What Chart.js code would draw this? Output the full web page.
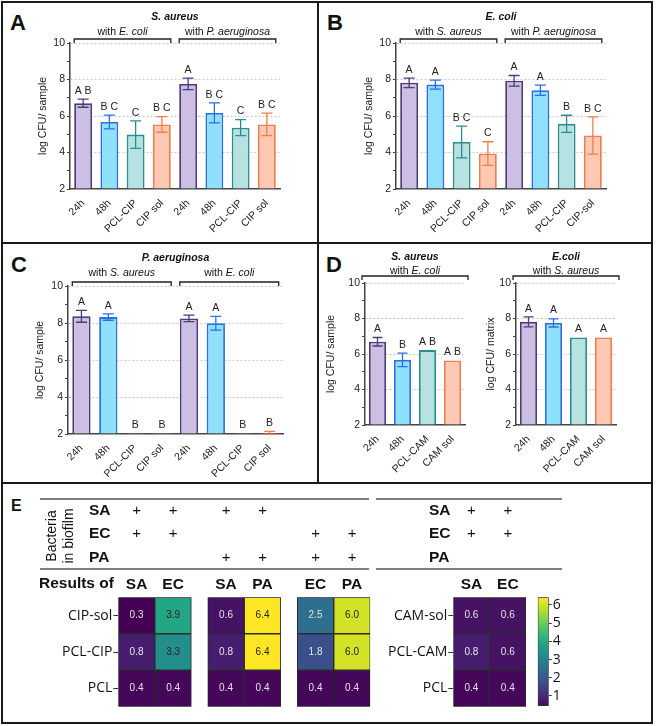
<!DOCTYPE html>
<html>
<head>
<meta charset="utf-8">
<title>Biofilm CFU</title>
<script src="https://cdn.jsdelivr.net/npm/chart.js@4.4.1/dist/chart.umd.min.js"></script>
<style>
  html, body { margin: 0; padding: 0; background: #fff; }
  body { position: relative; width: 656px; height: 726px; overflow: hidden; font-family: "Liberation Sans", Arial, sans-serif; }
  canvas { position: absolute; }
  .panel { position: absolute; box-sizing: border-box; border: 2px solid #1a1a1a; }
  .tag { position: absolute; font-weight: bold; font-size: 22px; line-height: 22px; color: #111; }
</style>
</head>
<body>
<div class="panel" style="left:1px;top:1px;width:318px;height:243px"></div>
<div class="panel" style="left:317px;top:1px;width:336px;height:243px"></div>
<div class="panel" style="left:1px;top:242px;width:318px;height:242px"></div>
<div class="panel" style="left:317px;top:242px;width:336px;height:242px"></div>
<div class="panel" style="left:1px;top:482px;width:652px;height:242px"></div>
<div class="tag" style="left:10px;top:12px">A</div>
<div class="tag" style="left:327px;top:12px">B</div>
<div class="tag" style="left:11px;top:254px">C</div>
<div class="tag" style="left:326px;top:254px">D</div>
<div class="tag" style="left:11px;top:498px;font-size:16px;line-height:16px">E</div>

<script>
// ---- data ----
const cipLabels = ['24h', '48h', 'PCL-CIP', 'CIP sol', '24h', '48h', 'PCL-CIP', 'CIP sol'];
const cipLabelsB = ['24h', '48h', 'PCL-CIP', 'CIP sol', '24h', '48h', 'PCL-CIP', 'CIP-sol'];
const camLabels = ['24h', '48h', 'PCL-CAM', 'CAM sol'];

const saMean = [6.70, 5.67, 4.98, 5.54, 7.76, 6.17, 5.36, 5.54];
const saErr = [0.22, 0.38, 0.75, 0.43, 0.32, 0.55, 0.44, 0.62];
const saLetters = ['A B', 'B C', 'C', 'B C', 'A', 'B C', 'C', 'B C'];

const ecMean = [7.82, 7.72, 4.58, 3.94, 7.93, 7.41, 5.57, 4.93];
const ecErr = [0.26, 0.25, 0.87, 0.65, 0.29, 0.28, 0.47, 1.02];
const ecLetters = ['A', 'A', 'B C', 'C', 'A', 'A', 'B', 'B C'];

const paMean = [8.36, 8.32, 2.05, 2.05, 8.25, 7.99, 2.05, 2.06];
const paErr = [0.32, 0.17, 0, 0, 0.18, 0.37, 0, 0.08];
const paLetters = ['A', 'A', 'B', 'B', 'A', 'A', 'B', 'B'];

const saCamMean = [6.69, 5.67, 6.22, 5.64];
const saCamErr = [0.24, 0.38, 0, 0];
const saCamLetters = ['A', 'B', 'A B', 'A B'];

const ecCamMean = [7.81, 7.75, 6.93, 6.93];
const ecCamErr = [0.28, 0.23, 0, 0];
const ecCamLetters = ['A', 'A', 'A', 'A'];

// heatmap (panel E)
const bugNames = ['SA', 'EC', 'PA'];
const leftCols = ['SA', 'EC', 'SA', 'PA', 'EC', 'PA'];
const leftSA = [1, 1, 1, 1, 0, 0];
const leftEC = [1, 1, 0, 0, 1, 1];
const leftPA = [0, 0, 1, 1, 1, 1];
const cipRows = ['CIP-sol', 'PCL-CIP', 'PCL'];
const cipSolVals = [0.3, 3.9, 0.6, 6.4, 2.5, 6.0];
const pclCipVals = [0.8, 3.3, 0.8, 6.4, 1.8, 6.0];
const pclLeftVals = [0.4, 0.4, 0.4, 0.4, 0.4, 0.4];

const rightCols = ['SA', 'EC'];
const rightSA = [1, 1];
const rightEC = [1, 1];
const rightPA = [0, 0];
const camRows = ['CAM-sol', 'PCL-CAM', 'PCL'];
const camSolVals = [0.6, 0.6];
const pclCamVals = [0.8, 0.6];
const pclRightVals = [0.4, 0.4];

const colorRange = [0.3, 6.4];
const barRange = [0.45, 6.42];
const barTicks = [1, 2, 3, 4, 5, 6];

// ---- styles ----
const FONT = '"Liberation Sans", Arial, Helvetica, sans-serif';
const FONT2 = '"Open Sans", "Noto Sans", sans-serif';
const fills = ['#cdbfe4', '#8fe1fb', '#b6e2e2', '#fdc9b3'];
const edges = ['#4e3b7c', '#2a6fe3', '#2b8d8d', '#f47c4c'];
const VIR = ['#440154', '#482475', '#414487', '#355f8d', '#2a788e', '#21918c',
             '#22a884', '#44bf70', '#7ad151', '#bddf26', '#fde725'];

Chart.defaults.font.family = FONT;
Chart.defaults.color = '#222';

function hexRgb(h) {
  return [1, 3, 5].map(i => parseInt(h.substr(i, 2), 16));
}

function viridis(v) {
  let t = (v - colorRange[0]) / (colorRange[1] - colorRange[0]);
  t = Math.max(0, Math.min(1, t));
  const f = t * 10, i = Math.min(9, Math.floor(f)), u = f - i;
  const a = hexRgb(VIR[i]), b = hexRgb(VIR[i + 1]);
  const c = a.map((x, k) => Math.round(x + (b[k] - x) * u));
  return 'rgb(' + c.join(',') + ')';
}

function addCanvas(box) {
  const c = document.createElement('canvas');
  c.width = box.w; c.height = box.h;
  c.style.left = box.x + 'px'; c.style.top = box.y + 'px';
  c.style.width = box.w + 'px'; c.style.height = box.h + 'px';
  document.body.appendChild(c);
  return c;
}

// draws mixed regular / italic text centred on cx
function rich(ctx, parts, cx, cy, size) {
  let w = 0;
  parts.forEach(p => { ctx.font = p[1] + size + 'px ' + FONT; w += ctx.measureText(p[0]).width; });
  let x = cx - w / 2;
  ctx.textAlign = 'left';
  ctx.textBaseline = 'middle';
  parts.forEach(p => {
    ctx.font = p[1] + size + 'px ' + FONT;
    ctx.fillText(p[0], x, cy);
    x += ctx.measureText(p[0]).width;
  });
}

// ---- bar panels A-D ----
function barPanel(p) {
  const box = p.box, area = p.area;
  const cv = addCanvas(box);
  const padL = p.yTitleX - 6 - box.x;

  const deco = {
    id: 'deco',
    afterDatasetsDraw(chart) {
      const ctx = chart.ctx, ys = chart.scales.y;
      const bars = chart.getDatasetMeta(0).data;
      ctx.save();
      bars.forEach((bar, i) => {
        const v = p.mean[i], e = p.err[i];
        if (e > 0) {
          const y1 = ys.getPixelForValue(v + e), y2 = ys.getPixelForValue(v - e);
          const cw = p.cap;
          ctx.strokeStyle = edges[i % 4];
          ctx.lineWidth = 1.3;
          ctx.beginPath();
          ctx.moveTo(bar.x, y1); ctx.lineTo(bar.x, y2);
          ctx.moveTo(bar.x - cw, y1); ctx.lineTo(bar.x + cw, y1);
          ctx.moveTo(bar.x - cw, y2); ctx.lineTo(bar.x + cw, y2);
          ctx.stroke();
        }
        ctx.fillStyle = '#222';
        ctx.font = '10.5px ' + FONT;
        ctx.textAlign = 'center';
        ctx.textBaseline = 'bottom';
        ctx.fillText(p.letters[i], bar.x, ys.getPixelForValue(v + e) - 3);
      });
      ctx.restore();
    },
    afterDraw(chart) {
      const ctx = chart.ctx, ca = chart.chartArea;
      const bars = chart.getDatasetMeta(0).data;
      const yb = ca.top - p.bOff;
      let minX = Infinity, maxX = -Infinity;
      ctx.save();
      ctx.strokeStyle = '#222';
      ctx.lineWidth = 1.3;
      ctx.fillStyle = '#111';
      p.groups.forEach(g => {
        const x1 = p.full ? ca.left - 3 : bars[g[0]].x - bars[g[0]].width / 2;
        const x2 = p.full ? ca.right + 3 : bars[g[1]].x + bars[g[1]].width / 2;
        ctx.beginPath();
        ctx.moveTo(x1, yb + 4); ctx.lineTo(x1, yb); ctx.lineTo(x2, yb); ctx.lineTo(x2, yb + 4);
        ctx.stroke();
        rich(ctx, [['with ', ''], [g[2], 'italic ']], (x1 + x2) / 2, ca.top - p.sOff, 10.5);
        minX = Math.min(minX, x1);
        maxX = Math.max(maxX, x2);
      });
      rich(ctx, [[p.title, 'italic bold ']], (minX + maxX) / 2, ca.top - p.tOff, 10.5);
      ctx.restore();
    }
  };

  new Chart(cv, {
    type: 'bar',
    data: {
      labels: p.labels,
      datasets: [{
        data: p.mean,
        base: 2,
        backgroundColor: p.labels.map((_, i) => fills[i % 4]),
        borderColor: p.labels.map((_, i) => edges[i % 4]),
        borderWidth: 1.8,
        borderSkipped: 'start',
        barPercentage: 0.68,
        categoryPercentage: 1
      }]
    },
    options: {
      responsive: false,
      animation: false,
      devicePixelRatio: 1,
      layout: { padding: { left: padL, top: area.t - box.y, right: box.x + box.w - area.r, bottom: 0 } },
      plugins: { legend: { display: false }, tooltip: { enabled: false } },
      scales: {
        x: {
          grid: { display: false },
          border: { color: '#444', width: 1.5 },
          ticks: { font: { size: 10.5 }, color: '#222', minRotation: 45, maxRotation: 45, autoSkip: false, padding: 0 },
          afterFit: s => { s.height = box.y + box.h - area.b; }
        },
        y: {
          min: 2, max: 10,
          ticks: {
            stepSize: 1, autoSkip: false, padding: 2, font: { size: 10.5 }, color: '#222',
            callback: v => (v % 2 === 0 ? v : '')
          },
          grid: {
            color: c => (c.tick && c.tick.value % 2 === 0 && c.tick.value > 2 ? '#c8c8c8' : 'rgba(0,0,0,0)'),
            tickColor: '#444', tickLength: 3, tickWidth: 1.2, tickBorderDash: []
          },
          border: { color: '#444', width: 1.5, dash: [2, 2] },
          title: { display: true, text: p.yTitle, font: { size: 10.5 }, padding: 0, color: '#222' },
          afterFit: s => { s.width = area.l - box.x - padL; }
        }
      }
    },
    plugins: [deco]
  });
}

barPanel({ box: { x: 4, y: 4, w: 312, h: 237 }, area: { l: 70, r: 280, t: 43, b: 189 }, yTitleX: 43,
  yTitle: 'log CFU/ sample', labels: cipLabels, mean: saMean, err: saErr, letters: saLetters,
  title: 'S. aureus', groups: [[0, 3, 'E. coli'], [4, 7, 'P. aeruginosa']],
  bOff: 4, sOff: 11, tOff: 26, cap: 5.5, full: false });

barPanel({ box: { x: 320, y: 4, w: 331, h: 237 }, area: { l: 396, r: 606, t: 43, b: 189 }, yTitleX: 369,
  yTitle: 'log CFU/ sample', labels: cipLabelsB, mean: ecMean, err: ecErr, letters: ecLetters,
  title: 'E. coli', groups: [[0, 3, 'S. aureus'], [4, 7, 'P. aeruginosa']],
  bOff: 4, sOff: 11, tOff: 26, cap: 5.5, full: false });

barPanel({ box: { x: 4, y: 245, w: 312, h: 236 }, area: { l: 68, r: 283, t: 286, b: 434 }, yTitleX: 40,
  yTitle: 'log CFU/ sample', labels: cipLabels, mean: paMean, err: paErr, letters: paLetters,
  title: 'P. aeruginosa', groups: [[0, 3, 'S. aureus'], [4, 7, 'E. coli']],
  bOff: 4, sOff: 13, tOff: 28, cap: 5.5, full: false });

barPanel({ box: { x: 320, y: 245, w: 165, h: 236 }, area: { l: 365, r: 465, t: 283, b: 425 }, yTitleX: 331,
  yTitle: 'log CFU/ sample', labels: camLabels, mean: saCamMean, err: saCamErr, letters: saCamLetters,
  title: 'S. aureus', groups: [[0, 3, 'E. coli']],
  bOff: 7, sOff: 12, tOff: 26, cap: 5, full: true });

barPanel({ box: { x: 485, y: 245, w: 166, h: 236 }, area: { l: 516, r: 616, t: 283, b: 425 }, yTitleX: 491,
  yTitle: 'log CFU/ matrix', labels: camLabels, mean: ecCamMean, err: ecCamErr, letters: ecCamLetters,
  title: 'E.coli', groups: [[0, 3, 'S. aureus']],
  bOff: 7, sOff: 12, tOff: 26, cap: 5, full: true });

// ---- heatmaps (panel E) ----
const rowY = [511, 533.5, 557.5];
const lineY = [499, 569];

function heatPanel(h) {
  const box = h.box, area = h.area;
  const cv = addCanvas(box);

  const deco = {
    id: 'heatdeco',
    afterDatasetsDraw(chart) {
      const ctx = chart.ctx;
      ctx.save();
      ctx.font = '10px ' + FONT;
      ctx.textAlign = 'center';
      ctx.textBaseline = 'middle';
      h.values.forEach((vals, k) => {
        chart.getDatasetMeta(k).data.forEach((el, j) => {
          const c = el.getCenterPoint();
          ctx.fillStyle = vals[j] >= 3 ? '#222' : '#e4e4e4';
          ctx.fillText(vals[j].toFixed(1), c.x, c.y);
        });
      });
      ctx.restore();
    },
    afterDraw(chart) {
      const ctx = chart.ctx, xs = chart.scales.x, ox = box.x, oy = box.y;
      ctx.save();
      ctx.strokeStyle = '#555';
      ctx.lineWidth = 1.5;
      lineY.forEach(ly => {
        ctx.beginPath();
        ctx.moveTo(h.lineX[0] - ox, ly - oy);
        ctx.lineTo(h.lineX[1] - ox, ly - oy);
        ctx.stroke();
      });
      ctx.fillStyle = '#111';
      ctx.textBaseline = 'middle';
      ctx.textAlign = 'left';
      ctx.font = 'bold 15.5px ' + FONT;
      bugNames.forEach((nm, r) => ctx.fillText(nm, h.rowLabelX - ox, rowY[r] - oy));
      ctx.font = '15px ' + FONT;
      ctx.textAlign = 'center';
      h.present.forEach((arr, r) => arr.forEach((on, j) => {
        if (on) ctx.fillText('+', xs.getPixelForValue(h.colPos[j]), rowY[r] - oy);
      }));
      if (h.extras) {
        ctx.textAlign = 'left';
        ctx.font = 'bold 15.5px ' + FONT;
        ctx.fillText('Results of', 39 - ox, 584 - oy);
        ctx.font = '14px ' + FONT;
        ctx.textAlign = 'center';
        [['Bacteria', 51.7], ['in biofilm', 69]].forEach(t => {
          ctx.save();
          ctx.translate(t[1] - ox, 536 - oy);
          ctx.rotate(-Math.PI / 2);
          ctx.fillText(t[0], 0, 0);
          ctx.restore();
        });
      }
      ctx.restore();
    }
  };

  new Chart(cv, {
    type: 'bar',
    data: {
      datasets: h.values.map((vals, k) => ({
        data: vals.map((v, j) => ({ x: h.colPos[j], y: [2 - k, 3 - k] })),
        backgroundColor: vals.map(v => viridis(v)),
        borderColor: '#2a2a2a',
        borderWidth: 1,
        borderSkipped: false,
        grouped: false,
        barPercentage: 1,
        categoryPercentage: 1
      }))
    },
    options: {
      responsive: false,
      animation: false,
      devicePixelRatio: 1,
      layout: { padding: { left: 0, top: area.t - box.y - 30, right: box.x + box.w - area.r, bottom: box.y + box.h - area.b } },
      plugins: { legend: { display: false }, tooltip: { enabled: false } },
      scales: {
        x: {
          type: 'linear', position: 'top', min: 0, max: h.xMax, offset: false,
          afterBuildTicks: s => { s.ticks = h.colPos.map(v => ({ value: v })); },
          ticks: { callback: (v, i) => h.cols[i], font: { size: 15.5, weight: 'bold' }, color: '#111', padding: -5, autoSkip: false, maxRotation: 0 },
          grid: { display: false },
          border: { display: false },
          afterFit: s => { s.height = 30; }
        },
        y: {
          type: 'linear', min: 0, max: 3,
          afterBuildTicks: s => { s.ticks = [0.5, 1.5, 2.5].map(v => ({ value: v })); },
          ticks: { callback: (v, i) => h.rows[2 - i], font: { family: FONT2, size: 14 }, color: '#111', padding: 1 },
          grid: { drawOnChartArea: false, tickLength: 5, tickColor: '#333', tickWidth: 1 },
          border: { display: false },
          afterFit: s => { s.width = area.l - box.x; }
        }
      }
    },
    plugins: [deco]
  });
}

heatPanel({ box: { x: 4, y: 485, w: 372, h: 236 }, area: { l: 118.3, r: 370.3, t: 597.3, b: 706.7 },
  cols: leftCols, colPos: [0.5, 1.5, 2.95, 3.95, 5.4, 6.4], xMax: 6.9,
  rows: cipRows, values: [cipSolVals, pclCipVals, pclLeftVals],
  present: [leftSA, leftEC, leftPA], lineX: [40, 369], rowLabelX: 89, extras: true });

heatPanel({ box: { x: 374, y: 485, w: 200, h: 236 }, area: { l: 453.3, r: 526, t: 597.3, b: 706.7 },
  cols: rightCols, colPos: [0.5, 1.5], xMax: 2,
  rows: camRows, values: [camSolVals, pclCamVals, pclRightVals],
  present: [rightSA, rightEC, rightPA], lineX: [376, 562], rowLabelX: 429, extras: false });

// ---- colour bar ----
(function () {
  const box = { x: 530, y: 485, w: 40, h: 236 }, area = { l: 537.7, r: 548.7, t: 597.3, b: 706 };
  const cv = addCanvas(box);
  new Chart(cv, {
    type: 'bar',
    data: {
      labels: [''],
      datasets: [{
        data: [barRange],
        backgroundColor: c => {
          const a = c.chart.chartArea;
          if (!a) return '#888';
          const g = c.chart.ctx.createLinearGradient(0, a.bottom, 0, a.top);
          for (let i = 0; i <= 20; i++) {
            g.addColorStop(i / 20, viridis(barRange[0] + (barRange[1] - barRange[0]) * i / 20));
          }
          return g;
        },
        borderColor: '#333',
        borderWidth: 1,
        borderSkipped: false,
        barPercentage: 1,
        categoryPercentage: 1
      }]
    },
    options: {
      responsive: false,
      animation: false,
      devicePixelRatio: 1,
      layout: { padding: { left: area.l - box.x, top: area.t - box.y, right: 0, bottom: box.y + box.h - area.b } },
      plugins: { legend: { display: false }, tooltip: { enabled: false } },
      scales: {
        x: { display: false },
        y: {
          position: 'right', min: barRange[0], max: barRange[1],
          afterBuildTicks: s => { s.ticks = barTicks.map(v => ({ value: v })); },
          ticks: { font: { family: FONT2, size: 14 }, color: '#111', padding: 1 },
          grid: { drawOnChartArea: false, tickLength: 3, tickColor: '#333' },
          border: { display: false },
          afterFit: s => { s.width = box.x + box.w - area.r; }
        }
      }
    }
  });
})();
</script>
</body>
</html>
